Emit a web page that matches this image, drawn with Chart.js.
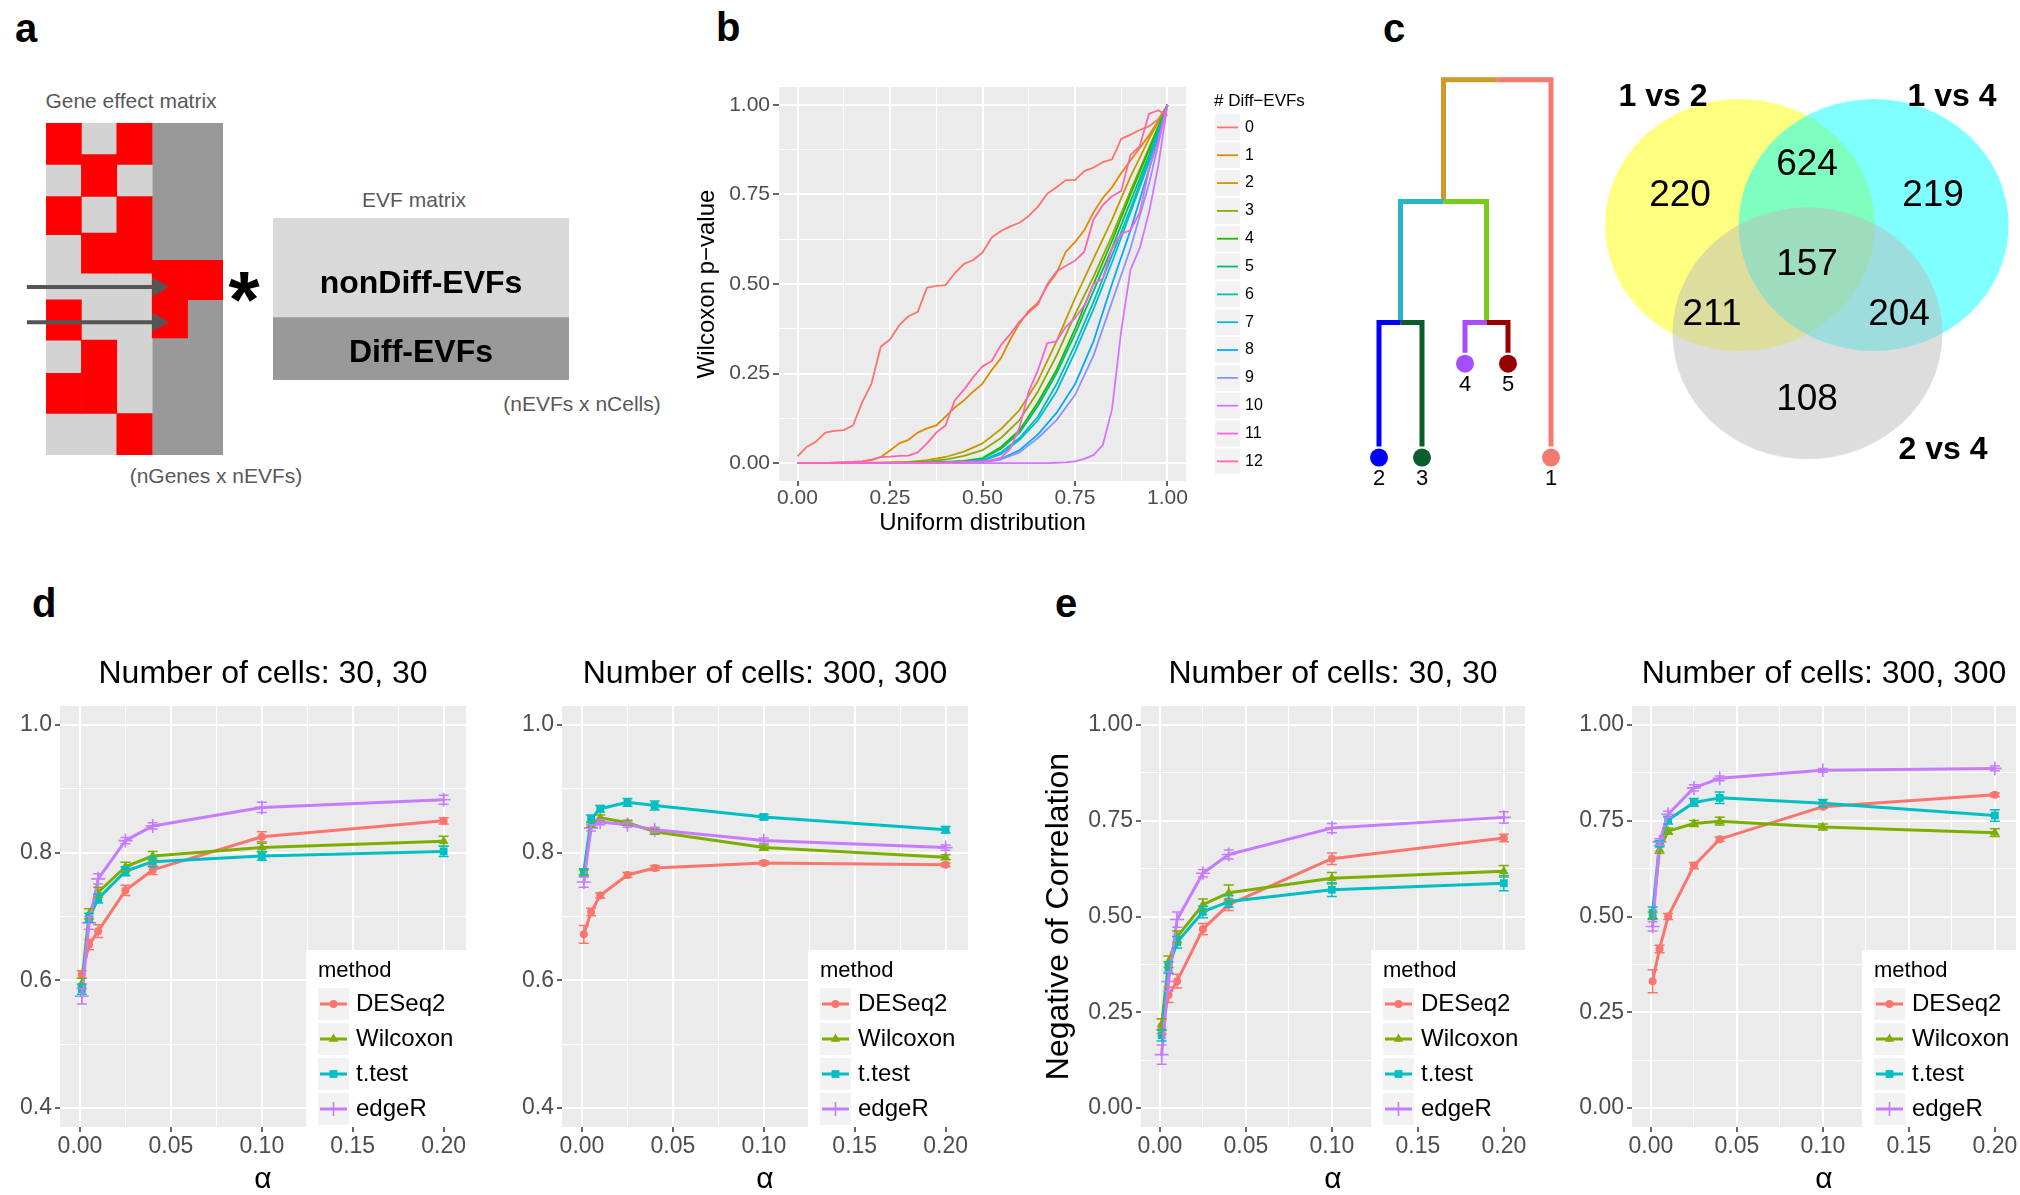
<!DOCTYPE html>
<html><head><meta charset="utf-8">
<script src="https://cdn.jsdelivr.net/npm/chart.js@4/dist/chart.umd.min.js"></script>
<style>
html,body{margin:0;padding:0;background:#fff;width:2020px;height:1195px;overflow:hidden;position:relative;}
canvas{position:absolute;}
.t{position:absolute;white-space:nowrap;line-height:1;font-family:"Liberation Sans",Arial,Helvetica,sans-serif;}
</style></head><body>
<script>
// ====================== DATA ======================
// ---- panel a: gene effect matrix (5 EVF columns, rows in row units, 0 = top) ----
const matrixCols = ['EVF1','EVF2','EVF3','EVF4','EVF5'];
const matrixRows = 8;
const nonDiffCols = [0,1,2];
const diffCols = [3,4];
const redCells = [
  [[0,1],[1.77,2.69],[4.26,5.23],[6.03,7]],
  [[0.76,1.77],[2.65,3.62],[5.23,7]],
  [[0,1],[1.77,3.62],[7,8]],
  [[3.31,5.18]],
  [[3.31,4.26]]
];
const arrowRows = [3.95, 4.8];
const arrowFrom = -0.54, arrowTo = 3.47;
const evfLabels = ['nonDiff-EVFs','Diff-EVFs'];
const evfSizes = [11, 7];

// ---- panel b: QQ curves of Wilcoxon p-values ----
const diffEvfLevels = ['0','1','2','3','4','5','6','7','8','9','10','11','12'];
const xFine = [0,0.025,0.05,0.075,0.1,0.125,0.15,0.175,0.2,0.225,0.25,0.275,0.3,0.325,0.35,0.375,0.4,0.425,0.45,0.475,0.5,0.525,0.55,0.575,0.6,0.625,0.65,0.675,0.7,0.725,0.75,0.775,0.8,0.825,0.85,0.875,0.9,0.925,0.95,0.975,1];
const xCoarse = [0,0.05,0.1,0.15,0.2,0.25,0.3,0.35,0.4,0.45,0.5,0.55,0.6,0.65,0.7,0.75,0.8,0.85,0.9,0.95,1];
const pv0 = [0.019,0.045,0.06,0.085,0.09,0.092,0.105,0.17,0.222,0.325,0.345,0.385,0.41,0.422,0.49,0.495,0.497,0.53,0.556,0.567,0.588,0.63,0.648,0.661,0.671,0.69,0.716,0.752,0.77,0.79,0.79,0.815,0.825,0.84,0.848,0.905,0.917,0.93,0.94,0.96,1.0];
const pv1 = [0,0,0,0,0.001,0.002,0.003,0.005,0.008,0.017,0.035,0.055,0.065,0.085,0.097,0.105,0.13,0.155,0.175,0.2,0.222,0.26,0.293,0.345,0.39,0.425,0.448,0.495,0.53,0.59,0.617,0.65,0.7,0.74,0.77,0.81,0.845,0.88,0.915,0.955,1.0];
const pv2 = [0,0,0,0,0.001,0.002,0.003,0.008,0.017,0.032,0.055,0.095,0.148,0.23,0.34,0.46,0.57,0.68,0.8,0.905,1];
const pv3 = [0,0,0,0,0,0.001,0.002,0.004,0.01,0.02,0.036,0.07,0.12,0.2,0.3,0.415,0.52,0.635,0.76,0.88,1];
const pv4 = [0,0,0,0,0,0,0.001,0.002,0.003,0.006,0.014,0.045,0.092,0.17,0.26,0.375,0.5,0.62,0.75,0.875,1];
const pv5 = [0,0,0,0,0,0,0,0.001,0.002,0.005,0.012,0.04,0.085,0.16,0.25,0.36,0.48,0.6,0.73,0.86,1];
const pv6 = [0,0,0,0,0,0,0,0.001,0.002,0.004,0.008,0.03,0.07,0.13,0.22,0.33,0.45,0.58,0.71,0.85,1];
const pv7 = [0,0,0,0,0,0,0,0,0.001,0.003,0.006,0.025,0.065,0.12,0.2,0.31,0.43,0.56,0.7,0.84,1];
const pv8 = [0,0,0,0,0,0,0,0,0.001,0.002,0.003,0.012,0.036,0.08,0.14,0.22,0.34,0.5,0.65,0.82,1];
const pv9 = [0,0,0,0,0,0,0,0,0,0.001,0.002,0.01,0.03,0.07,0.12,0.19,0.3,0.45,0.6,0.78,1];
const pv10 = [0,0,0,0,0,0,0,0,0,0, 0,0,0,0,0,0,0,0,0,0, 0,0,0,0,0,0,0,0, 0.001,0.002,0.005,0.012,0.022,0.05,0.15,0.37,0.54,0.6,0.7,0.83,1.0];
const pv11 = [0,0,0,0,0,0,0,0,0,0, 0,0,0,0,0.001,0.001,0.002,0.002,0.003,0.004, 0.005,0.008,0.015,0.04,0.1,0.2,0.26,0.335,0.34,0.38, 0.405,0.44,0.5,0.515,0.6,0.64,0.65,0.7,0.82,0.9, 1.0];
const pv12 = [0,0,0,0,0.001,0.002,0.003,0.005,0.01,0.017, 0.018,0.02,0.021,0.03,0.055,0.085,0.105,0.175,0.205,0.24, 0.27,0.285,0.33,0.36,0.395,0.42,0.443,0.5,0.535,0.55, 0.565,0.59,0.68,0.72,0.745,0.76,0.86,0.885,0.975,0.985, 0.97];
const pvSeries = [pv0,pv1,pv2,pv3,pv4,pv5,pv6,pv7,pv8,pv9,pv10,pv11,pv12];
const pvX = [xFine,xFine,xCoarse,xCoarse,xCoarse,xCoarse,xCoarse,xCoarse,xCoarse,xCoarse,xFine,xFine,xFine];

// ---- panel c: dendrogram + Venn ----
const leafLabels = ['2','3','4','5','1'];
const leafX = [1,2,3,4,5];
const leafEnd = [0,0,0.256,0.256,0];
const mergeChildren = [['L0','L1'],['L2','L3'],['M0','M1'],['M2','L4']];
const mergeHeight = [0.338,0.338,0.668,1.0];
const vennSets = ['1 vs 2','1 vs 4','2 vs 4'];
const vennCenters = [[0,0],[0.99,0],[0.5,-0.86]];
const vennCounts = [220,624,219,157,211,204,108]; // A, A∩B, B, A∩B∩C, A∩C, B∩C, C

// ---- panels d / e ----
const alphaLevels = [0.001,0.005,0.01,0.025,0.04,0.1,0.2];
const methods = ['DESeq2','Wilcoxon','t.test','edgeR'];
// d: 30,30
const d30_DESeq2   = [0.609,0.656,0.677,0.741,0.773,0.825,0.850];
const d30_Wilcoxon = [0.595,0.704,0.738,0.778,0.795,0.808,0.818];
const d30_ttest    = [0.586,0.698,0.728,0.771,0.786,0.795,0.802];
const d30_edgeR    = [0.575,0.690,0.759,0.819,0.842,0.871,0.883];
const d30e_DESeq2   = [0.006,0.008,0.010,0.008,0.007,0.008,0.005];
const d30e_Wilcoxon = [0.008,0.008,0.008,0.007,0.007,0.007,0.008];
const d30e_ttest    = [0.008,0.007,0.007,0.007,0.008,0.007,0.008];
const d30e_edgeR    = [0.012,0.010,0.008,0.005,0.005,0.008,0.007];
// d: 300,300
const d300_DESeq2   = [0.672,0.707,0.733,0.765,0.776,0.784,0.781];
const d300_Wilcoxon = [0.769,0.844,0.855,0.847,0.833,0.808,0.793];
const d300_ttest    = [0.769,0.853,0.869,0.879,0.874,0.856,0.836];
const d300_edgeR    = [0.754,0.839,0.848,0.844,0.836,0.819,0.808];
const d300e_DESeq2   = [0.014,0.006,0.004,0.004,0.004,0.003,0.003];
const d300e_Wilcoxon = [0.004,0.004,0.004,0.004,0.004,0.004,0.004];
const d300e_ttest    = [0.006,0.006,0.005,0.006,0.007,0.004,0.005];
const d300e_edgeR    = [0.008,0.005,0.004,0.004,0.004,0.004,0.004];
// e: 30,30
const e30_DESeq2   = [0.213,0.295,0.331,0.467,0.531,0.651,0.705];
const e30_Wilcoxon = [0.218,0.382,0.447,0.531,0.562,0.600,0.618];
const e30_ttest    = [0.190,0.367,0.433,0.512,0.539,0.570,0.587];
const e30_edgeR    = [0.139,0.330,0.492,0.613,0.662,0.731,0.759];
const e30e_DESeq2   = [0.020,0.020,0.018,0.015,0.015,0.015,0.010];
const e30e_Wilcoxon = [0.015,0.015,0.015,0.015,0.020,0.015,0.015];
const e30e_ttest    = [0.015,0.015,0.015,0.015,0.015,0.018,0.020];
const e30e_edgeR    = [0.025,0.025,0.020,0.010,0.012,0.012,0.015];
// e: 300,300
const e300_DESeq2   = [0.331,0.415,0.500,0.633,0.702,0.787,0.818];
const e300_Wilcoxon = [0.502,0.675,0.723,0.743,0.749,0.734,0.719];
const e300_ttest    = [0.510,0.690,0.752,0.798,0.810,0.796,0.764];
const e300_edgeR    = [0.474,0.695,0.767,0.836,0.861,0.882,0.887];
const e300e_DESeq2   = [0.030,0.010,0.008,0.008,0.006,0.005,0.005];
const e300e_Wilcoxon = [0.010,0.010,0.008,0.008,0.010,0.008,0.010];
const e300e_ttest    = [0.015,0.008,0.010,0.010,0.015,0.010,0.015];
const e300e_edgeR    = [0.012,0.008,0.008,0.008,0.006,0.005,0.006];

// ====================== STYLE ======================
const FAM = '"Liberation Sans", Arial, Helvetica, sans-serif';
const diffEvfColors = ['#F8766D','#E18A00','#BE9C00','#8CAB00','#24B700','#00BE70','#00C1AB','#00BBDA','#00ACFC','#8B93FF','#D575FE','#F962DD','#FF65AC'];
const methodColors = ['#F8766D','#7CAE00','#00BFC4','#C77CFF'];
const methodShapes = ['circle','triangle','rect','cross'];
const methodPtR = [4, 5.5, 5.5, 7];
const branchColor = {L0:'#0000FF', L1:'#0B5E2B', L2:'#A54DFF', L3:'#990000', L4:'#F4796F', M0:'#27B6C8', M1:'#79CC1E', M2:'#D09A2A'};
const leafColor = ['#0000FF','#0B5E2B','#A54DFF','#990000','#F4796F'];
const vennColors = ['rgba(255,255,0,0.5)','rgba(0,255,255,0.5)','rgba(187,187,187,0.5)'];

Chart.defaults.font.family = FAM;
Chart.defaults.color = '#4D4D4D';
Chart.defaults.animation = false;
Chart.defaults.events = [];
Chart.defaults.layout.autoPadding = false;
Chart.defaults.plugins.legend.display = false;
Chart.defaults.plugins.tooltip.enabled = false;

// ---- plugins ----
const plotBg = {
  id: 'plotBg',
  beforeDraw(chart, args, o) {
    if (!o || !o.color) return;
    const a = chart.chartArea, ctx = chart.ctx;
    ctx.save(); ctx.fillStyle = o.color;
    ctx.fillRect(a.left, a.top, a.right - a.left, a.bottom - a.top); ctx.restore();
  }
};
const errBars = {
  id: 'errBars',
  afterDatasetsDraw(chart) {
    const ctx = chart.ctx, xs = chart.scales.x, ys = chart.scales.y;
    chart.data.datasets.forEach(ds => {
      if (!ds.errors) return;
      ctx.save(); ctx.strokeStyle = ds.borderColor; ctx.lineWidth = 1.5;
      ds.data.forEach((p, j) => {
        const e = ds.errors[j]; if (!e) return;
        const x = xs.getPixelForValue(p.x), y1 = ys.getPixelForValue(p.y - e), y2 = ys.getPixelForValue(p.y + e);
        ctx.beginPath();
        ctx.moveTo(x, y1); ctx.lineTo(x, y2);
        ctx.moveTo(x - 5, y1); ctx.lineTo(x + 5, y1);
        ctx.moveTo(x - 5, y2); ctx.lineTo(x + 5, y2);
        ctx.stroke();
      });
      ctx.restore();
    });
  }
};
function drawMarker(ctx, style, r, bw, x, y) {
  if (Chart.helpers && Chart.helpers.drawPoint) {
    Chart.helpers.drawPoint(ctx, {pointStyle: style, rotation: 0, radius: r, borderWidth: bw}, x, y);
    return;
  }
  ctx.beginPath();
  if (style === 'circle') { ctx.arc(x, y, r, 0, Math.PI * 2); ctx.fill(); }
  else if (style === 'rect') { const s = r * Math.SQRT1_2; ctx.fillRect(x - s, y - s, 2 * s, 2 * s); }
  else if (style === 'triangle') { ctx.moveTo(x, y - r); ctx.lineTo(x + 0.866 * r, y + 0.5 * r); ctx.lineTo(x - 0.866 * r, y + 0.5 * r); ctx.closePath(); ctx.fill(); }
  else { ctx.moveTo(x - r, y); ctx.lineTo(x + r, y); ctx.moveTo(x, y - r); ctx.lineTo(x, y + r); ctx.stroke(); }
}
const ggLegend = {
  id: 'ggLegend',
  afterDraw(chart, args, o) {
    if (!o || !o.title) return;
    const ctx = chart.ctx, ox = o.ox, oy = o.oy;
    ctx.save();
    if (o.box) { ctx.fillStyle = '#FFFFFF'; ctx.fillRect(o.box[0] - ox, o.box[1] - oy, o.box[2], o.box[3]); }
    ctx.textAlign = 'left'; ctx.textBaseline = 'middle'; ctx.fillStyle = '#000';
    ctx.font = o.titleSize + 'px ' + FAM;
    ctx.fillText(o.title, o.titleX - ox, o.titleY - oy);
    chart.data.datasets.forEach((ds, i) => {
      const cy = o.rowY + i * o.rowStep - oy, kx = o.keyX - ox;
      ctx.fillStyle = '#F2F2F2'; ctx.fillRect(kx, cy - o.keyH / 2, o.keyW, o.keyH);
      ctx.strokeStyle = ds.borderColor; ctx.lineWidth = ds.borderWidth; ctx.lineCap = 'butt';
      ctx.beginPath(); ctx.moveTo(kx + 2, cy); ctx.lineTo(kx + o.keyW - 2, cy); ctx.stroke();
      if (o.points) {
        ctx.fillStyle = ds.pointBackgroundColor; ctx.strokeStyle = ds.pointBorderColor;
        ctx.lineWidth = ds.pointBorderWidth || 0;
        drawMarker(ctx, ds.pointStyle, ds.pointRadius, ds.pointBorderWidth || 0, kx + o.keyW / 2, cy);
      }
      ctx.fillStyle = '#000'; ctx.font = o.labelSize + 'px ' + FAM;
      ctx.fillText(ds.label, o.labelX - ox, cy);
    });
    ctx.restore();
  }
};
Chart.register(plotBg, errBars, ggLegend);

// ---- helpers ----
function mkCanvas(l, t, w, h, extra) {
  const c = document.createElement('canvas');
  c.width = w; c.height = h;
  c.style.left = l + 'px'; c.style.top = t + 'px';
  c.style.width = w + 'px'; c.style.height = h + 'px';
  if (extra) Object.assign(c.style, extra);
  document.body.appendChild(c);
  return c;
}
function txt(s, x, y, size, o) {
  o = o || {};
  const d = document.createElement('div');
  d.className = 't'; d.textContent = s;
  d.style.fontSize = size + 'px';
  d.style.left = x + 'px'; d.style.top = y + 'px';
  d.style.fontWeight = o.bold ? 'bold' : 'normal';
  d.style.color = o.color || '#000';
  const tx = o.align === 'left' ? '0' : (o.align === 'right' ? '-100%' : '-50%');
  d.style.transform = 'translate(' + tx + ',-50%)';
  document.body.appendChild(d);
}
function ggAxis(o) {
  const all = o.majors.concat(o.minors).sort((a, b) => a - b);
  const isMaj = v => o.majors.some(m => Math.abs(m - v) < 1e-9);
  return {
    type: 'linear', min: o.min, max: o.max,
    afterBuildTicks: s => { s.ticks = all.map(v => ({value: v})); },
    afterFit: s => { if (s.isHorizontal()) s.height = o.size; else s.width = o.size; },
    ticks: {autoSkip: false, maxRotation: 0, minRotation: 0, padding: o.tickPad, color: '#4D4D4D',
      font: {size: o.font}, callback: v => isMaj(v) ? Number(v).toFixed(o.dec) : ''},
    grid: {color: '#FFFFFF', drawTicks: true, tickLength: o.tickLen, tickWidth: 1.5,
      lineWidth: c => (c.tick && isMaj(c.tick.value)) ? 2 : 1,
      tickColor: c => (c.tick && isMaj(c.tick.value)) ? '#333333' : 'rgba(0,0,0,0)'},
    border: {display: false},
    title: o.title ? {display: true, text: o.title, color: '#000',
      font: {size: o.titleSize, lineHeight: o.titleLH || 1.2}, padding: o.titlePad} : {display: false}
  };
}

// ====================== PANEL a ======================
txt('a', 15, 28, 40, {bold: true, align: 'left'});
txt('Gene effect matrix', 131, 100, 21, {color: '#595959'});
txt('EVF matrix', 414, 199, 21, {color: '#595959'});
txt('(nGenes x nEVFs)', 216, 475, 21, {color: '#595959'});
txt('(nEVFs x nCells)', 582, 403, 21, {color: '#595959'});

(function () {
  const ds = [];
  for (let k = 0; k < 4; k++) {
    ds.push({label: 'red' + k, data: redCells.map(col => col[k] || null), backgroundColor: '#FF0000',
      borderWidth: 0, grouped: false, barPercentage: 1, categoryPercentage: 1, order: 0});
  }
  ds.push({label: 'nonDiff', data: matrixCols.map((c, i) => nonDiffCols.includes(i) ? [0, matrixRows] : null),
    backgroundColor: '#D3D3D3', borderWidth: 0, grouped: false, barPercentage: 1, categoryPercentage: 1, order: 1});
  ds.push({label: 'Diff', data: matrixCols.map((c, i) => diffCols.includes(i) ? [0, matrixRows] : null),
    backgroundColor: '#999999', borderWidth: 0, grouped: false, barPercentage: 1, categoryPercentage: 1, order: 1});
  new Chart(mkCanvas(46, 123, 177, 332), {
    type: 'bar', data: {labels: matrixCols, datasets: ds},
    options: {responsive: false, devicePixelRatio: 1, layout: {padding: 0},
      scales: {x: {display: false}, y: {display: false, min: 0, max: matrixRows, reverse: true}}}
  });
})();

new Chart(mkCanvas(15, 262, 170, 80), {
  type: 'scatter',
  data: {datasets: arrowRows.map(r => ({data: [{x: arrowFrom, y: r}, {x: arrowTo - 0.3, y: r}], showLine: true,
      borderColor: '#555555', borderWidth: 4, pointRadius: 0}))
    .concat([{data: arrowRows.map(r => ({x: arrowTo - 0.31, y: r})), pointStyle: 'triangle', pointRotation: 90,
      pointRadius: 11, pointBackgroundColor: '#555555', pointBorderWidth: 0, showLine: false}])},
  options: {responsive: false, devicePixelRatio: 1, layout: {padding: 0},
    scales: {x: {display: false, min: -0.876, max: 3.927}, y: {display: false, reverse: true, min: 3.349, max: 5.277}}}
});

new Chart(mkCanvas(273, 218, 296, 162), {
  type: 'bar',
  data: {labels: ['EVF matrix'], datasets: evfLabels.map((l, i) => ({label: l, data: [evfSizes[i]],
    backgroundColor: ['#D9D9D9', '#999999'][i], borderWidth: 0, barPercentage: 1, categoryPercentage: 1}))},
  options: {responsive: false, devicePixelRatio: 1, layout: {padding: 0},
    scales: {x: {display: false, stacked: true}, y: {display: false, stacked: true, reverse: true, min: 0, max: evfSizes[0] + evfSizes[1]}}}
});
txt('*', 244, 300, 80, {bold: true});
txt(evfLabels[0], 421, 282, 32, {bold: true});
txt(evfLabels[1], 421, 351, 32, {bold: true});

// ====================== PANEL b ======================
txt('b', 716, 27, 40, {bold: true, align: 'left'});
(function () {
  const L = 690, T = 60, W = 630, H = 480;
  const datasets = pvSeries.map((ys, i) => ({
    label: diffEvfLevels[i], data: pvX[i].map((x, k) => ({x: x, y: ys[k]})),
    borderColor: diffEvfColors[i], backgroundColor: diffEvfColors[i], borderWidth: 1.8,
    pointRadius: 0, showLine: true, order: 12 - i, borderJoinStyle: 'round'
  }));
  new Chart(mkCanvas(L, T, W, H), {
    type: 'scatter', data: {datasets: datasets},
    options: {responsive: false, devicePixelRatio: 1,
      layout: {padding: {top: 27, right: 134, bottom: 0, left: 0}},
      scales: {
        x: ggAxis({min: -0.05, max: 1.05, majors: [0, 0.25, 0.5, 0.75, 1], minors: [0.125, 0.375, 0.625, 0.875], dec: 2,
          size: 59, tickLen: 5, tickPad: 0, font: 21, title: 'Uniform distribution', titleSize: 24, titlePad: {top: 0, bottom: 2.6}}),
        y: ggAxis({min: -0.05, max: 1.05, majors: [0, 0.25, 0.5, 0.75, 1], minors: [0.125, 0.375, 0.625, 0.875], dec: 2,
          size: 89, tickLen: 6, tickPad: 3, font: 21, title: 'Wilcoxon p\u2212value', titleSize: 24, titlePad: {top: 2.6, bottom: 0}})
      },
      plugins: {
        plotBg: {color: '#EBEBEB'},
        ggLegend: {ox: L, oy: T, title: '# Diff\u2212EVFs', titleX: 1214, titleY: 101, titleSize: 17,
          keyX: 1215, keyW: 25, keyH: 26, rowY: 127.4, rowStep: 27.83, labelX: 1245, labelSize: 16, points: false}
      }
    }
  });
})();

// ====================== PANEL c ======================
txt('c', 1383, 28, 40, {bold: true, align: 'left'});
(function () {
  const L = 1336, T = 43, W = 258, H = 477;
  const pos = {};
  leafX.forEach((x, i) => { pos['L' + i] = {x: x, h: leafEnd[i]}; });
  const ds = [];
  mergeChildren.forEach((pair, k) => {
    const mx = (pos[pair[0]].x + pos[pair[1]].x) / 2, mh = mergeHeight[k];
    pos['M' + k] = {x: mx, h: mh};
    pair.forEach(c => {
      ds.push({data: [{x: pos[c].x, y: pos[c].h}, {x: pos[c].x, y: mh}, {x: mx, y: mh}], showLine: true,
        borderColor: branchColor[c], borderWidth: 5, pointRadius: 0, borderCapStyle: 'butt', borderJoinStyle: 'miter'});
    });
  });
  ds.push({data: leafX.map((x, i) => ({x: x, y: leafEnd[i] - 0.03})), showLine: false, pointRadius: 9,
    pointBackgroundColor: leafColor, pointBorderWidth: 0});
  new Chart(mkCanvas(L, T, W, H), {
    type: 'scatter', data: {datasets: ds},
    options: {responsive: false, devicePixelRatio: 1, layout: {padding: 0},
      scales: {x: {display: false, min: 0, max: 6}, y: {display: false, min: -0.2, max: 1.1}}}
  });
  const pxPerX = W / 6, pxPerY = H / 1.3;
  leafX.forEach((x, i) => {
    const py = T + (1.1 - (leafEnd[i] - 0.03)) * pxPerY + 20;
    txt(leafLabels[i], L + x * pxPerX, py, 22);
  });
})();

(function () {
  const VL = 1590, VT = 85, VW = 430, VH = 410;
  const xmin = -1.1111, xmax = 2.0741, ymin = -1.9259, ymax = 1.1111;
  const pxPerUnit = VW / (xmax - xmin);   // radius of each set = 1 unit
  new Chart(mkCanvas(VL, VT, VW, VH, {transform: 'scaleY(0.933)', transformOrigin: '0 0'}), {
    type: 'bubble',
    data: {datasets: [{data: vennCenters.map(c => ({x: c[0], y: c[1]})), backgroundColor: vennColors,
      borderWidth: 0, radius: pxPerUnit, clip: false}]},
    options: {responsive: false, devicePixelRatio: 1, layout: {padding: 0, autoPadding: false},
      scales: {x: {display: false, min: xmin, max: xmax}, y: {display: false, min: ymin, max: ymax}}}
  });
})();
const vennCountPos = [[1680,193],[1807,162],[1933,193],[1807,262],[1712,312],[1899,312],[1807,397]];
vennCounts.forEach((n, i) => txt(String(n), vennCountPos[i][0], vennCountPos[i][1], 37));
const vennLabelPos = [[1663,95],[1952,95],[1943,448]];
vennSets.forEach((s, i) => txt(s, vennLabelPos[i][0], vennLabelPos[i][1], 32, {bold: true}));

// ====================== PANELS d / e ======================
txt('d', 32, 603, 40, {bold: true, align: 'left'});
txt('e', 1055, 603, 40, {bold: true, align: 'left'});

function methodChart(c) {
  const T = 630, H = 565, plotTop = 706, plotBottom = 1127;
  const datasets = methods.map((m, i) => ({
    label: m, data: alphaLevels.map((a, k) => ({x: a, y: c.series[i][k]})), errors: c.errors[i],
    borderColor: methodColors[i], backgroundColor: methodColors[i], borderWidth: 3,
    pointStyle: methodShapes[i], pointRadius: methodPtR[i], pointBackgroundColor: methodColors[i],
    pointBorderColor: methodColors[i], pointBorderWidth: methodShapes[i] === 'cross' ? 1.6 : 0,
    showLine: true, order: 3 - i, borderJoinStyle: 'round', borderCapStyle: 'round'
  }));
  const titleLH = 32 * 1.2;
  const titleTopPad = 674 - T - titleLH / 2;
  const titleBotPad = plotTop - T - titleTopPad - titleLH;
  new Chart(mkCanvas(c.left, T, c.w, H), {
    type: 'scatter', data: {datasets: datasets},
    options: {responsive: false, devicePixelRatio: 1,
      layout: {padding: {top: 0, left: 0, bottom: 0, right: c.left + c.w - c.plotR}},
      scales: {
        x: ggAxis({min: -0.011, max: 0.2123, majors: [0, 0.05, 0.1, 0.15, 0.2], minors: [0.025, 0.075, 0.125, 0.175], dec: 2,
          size: T + H - plotBottom, tickLen: 5, tickPad: 1, font: 23, title: '\u03b1', titleSize: 30, titleLH: 1, titlePad: {top: 0, bottom: 0}}),
        y: ggAxis(Object.assign({size: c.plotL - c.left, tickLen: 5, tickPad: 3, font: 23}, c.ySpec))
      },
      plugins: {
        plotBg: {color: '#EBEBEB'},
        title: {display: true, text: c.title, color: '#000', font: {size: 32, weight: 'normal'},
          padding: {top: titleTopPad, bottom: titleBotPad}, fullSize: false},
        ggLegend: {ox: c.left, oy: T, box: [c.legL, 950, c.plotR - c.legL, plotBottom - 950], title: 'method',
          titleX: c.legL + 12, titleY: 971, titleSize: 22, keyX: c.legL + 12, keyW: 31, keyH: 32,
          rowY: 1004, rowStep: 35, labelX: c.legL + 50, labelSize: 24, points: true}
      }
    }
  });
}
const yD = {min: 0.37, max: 1.03, majors: [0.4, 0.6, 0.8, 1.0], minors: [0.5, 0.7, 0.9], dec: 1};
const yE = {min: -0.05, max: 1.05, majors: [0, 0.25, 0.5, 0.75, 1], minors: [0.125, 0.375, 0.625, 0.875], dec: 2};

methodChart({left: 0, w: 500, plotL: 60, plotR: 466, legL: 306, title: 'Number of cells: 30, 30', ySpec: yD,
  series: [d30_DESeq2, d30_Wilcoxon, d30_ttest, d30_edgeR], errors: [d30e_DESeq2, d30e_Wilcoxon, d30e_ttest, d30e_edgeR]});
methodChart({left: 500, w: 510, plotL: 562, plotR: 968, legL: 808, title: 'Number of cells: 300, 300', ySpec: yD,
  series: [d300_DESeq2, d300_Wilcoxon, d300_ttest, d300_edgeR], errors: [d300e_DESeq2, d300e_Wilcoxon, d300e_ttest, d300e_edgeR]});
methodChart({left: 1010, w: 520, plotL: 1141, plotR: 1525, legL: 1371, title: 'Number of cells: 30, 30',
  ySpec: Object.assign({title: 'Negative of Correlation', titleSize: 32, titlePad: {top: 29.8, bottom: 0}}, yE),
  series: [e30_DESeq2, e30_Wilcoxon, e30_ttest, e30_edgeR], errors: [e30e_DESeq2, e30e_Wilcoxon, e30e_ttest, e30e_edgeR]});
methodChart({left: 1530, w: 500, plotL: 1632, plotR: 2016, legL: 1862, title: 'Number of cells: 300, 300', ySpec: yE,
  series: [e300_DESeq2, e300_Wilcoxon, e300_ttest, e300_edgeR], errors: [e300e_DESeq2, e300e_Wilcoxon, e300e_ttest, e300e_edgeR]});
</script>
</body></html>
